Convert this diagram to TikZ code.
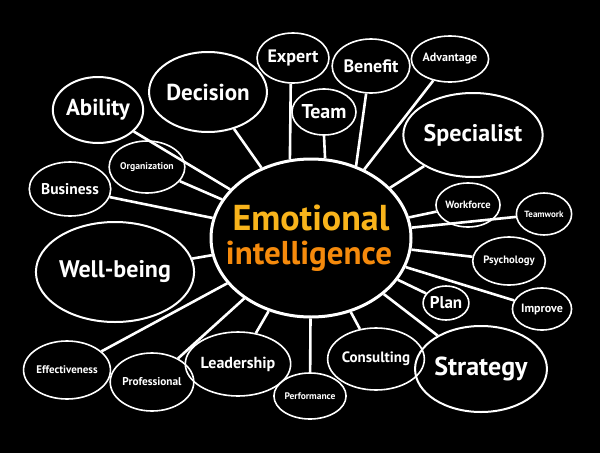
\documentclass[tikz,border=0pt]{standalone}
\usepackage{fontspec}
\setmainfont{PT Sans}
\usetikzlibrary{shapes.geometric}
\definecolor{jaune}{HTML}{F9B41B}
\definecolor{orangee}{HTML}{F58A0C}
\newcommand{\taille}[1]{\fontsize{#1}{#1}\selectfont}
\begin{document}
\begin{tikzpicture}[x=1pt,y=-1pt,
  bulle/.style={draw=white,ellipse,inner sep=0pt,line width=1.6pt,text=white,font=\bfseries},
  lien/.style={white,line width=2.6pt}]
% Fond noir
\fill[black] (0,0) rectangle (600,453);
% Bulle centrale
\node[bulle,line width=3pt,minimum width=200pt,minimum height=158pt] (centre) at (311,238) {};
\node[text=jaune,font=\bfseries\taille{36}] (emo) at (311,218) {Emotional};
\node[text=orangee,font=\bfseries\taille{33}] (intel) at (309,256) {intelligence};
% Bulles autour
\node[bulle,minimum width=84pt,minimum height=66pt,line width=2pt] (ability) at (98,110) {\taille{23}Ability};
\node[bulle,minimum width=104pt,minimum height=80pt,line width=2pt] (decision) at (208,92) {\taille{23}Decision};
\node[bulle,minimum width=64pt,minimum height=50pt] (expert) at (293,58) {\taille{18}Expert};
\node[bulle,minimum width=64pt,minimum height=46pt] (team) at (324,112) {\taille{20}Team};
\node[bulle,minimum width=72pt,minimum height=54pt] (benefit) at (371,66) {\taille{18}Benefit};
\node[bulle,minimum width=70pt,minimum height=46pt] (advantage) at (450,59) {\taille{12}Advantage};
\node[bulle,minimum width=116pt,minimum height=84pt,line width=2pt] (specialist) at (473,135) {\taille{24}Specialist};
\node[bulle,minimum width=56pt,minimum height=44pt] (workforce) at (468,205) {\taille{10.5}Workforce};
\node[bulle,minimum width=50pt,minimum height=42pt] (teamwork) at (544,214) {\taille{9}Teamwork};
\node[bulle,minimum width=62pt,minimum height=48pt] (psychology) at (509,261) {\taille{10.7}Psychology};
\node[bulle,minimum width=52pt,minimum height=42pt] (improve) at (542,309) {\taille{12}Improve};
\node[bulle,minimum width=44pt,minimum height=34pt] (plan) at (446,303) {\taille{17}Plan};
\node[bulle,minimum width=108pt,minimum height=86pt,line width=2pt] (strategy) at (481,369) {\taille{26}Strategy};
\node[bulle,minimum width=78pt,minimum height=62pt] (consulting) at (376,359) {\taille{15}Consulting};
\node[bulle,minimum width=56pt,minimum height=46pt] (performance) at (310,396) {\taille{9.5}Performance};
\node[bulle,minimum width=84pt,minimum height=64pt] (leadership) at (238,364) {\taille{16}Leadership};
\node[bulle,minimum width=72pt,minimum height=58pt] (professional) at (152,382) {\taille{11.3}Professional};
\node[bulle,minimum width=70pt,minimum height=58pt] (effectiveness) at (67,370) {\taille{11}Effectiveness};
\node[bulle,minimum width=134pt,minimum height=100pt,line width=2pt] (wellbeing) at (115,272) {\taille{24}Well-being};
\node[bulle,minimum width=70pt,minimum height=54pt] (business) at (70,189) {\taille{15.5}Business};
\node[bulle,minimum width=64pt,minimum height=52pt] (organization) at (147,167) {\taille{9.7}Organization};
% Liens vers le centre
\foreach \n in {ability,decision,advantage,specialist,workforce,teamwork,psychology,improve,plan,strategy,consulting,performance,leadership,professional,effectiveness,wellbeing,business,organization}
  \draw[lien] (\n) -- (centre);
% en haut, les liens passent a cote de Team
\draw[lien] (expert.-95) -- (centre.105);
\draw[lien] (team.south) -- (centre.80);
\draw[lien] (benefit.-100) -- (centre.58);
\end{tikzpicture}
\end{document}
